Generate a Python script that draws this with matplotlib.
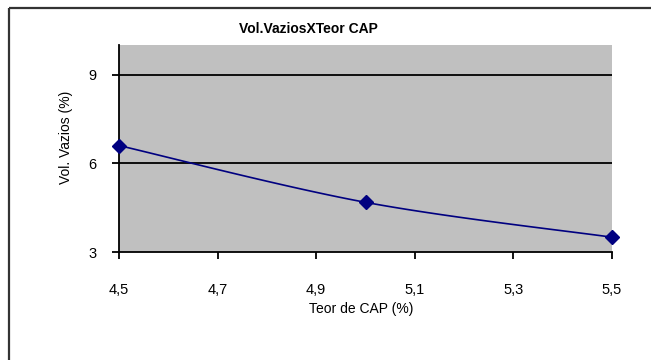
import numpy as np
import matplotlib.pyplot as plt
from matplotlib.lines import Line2D

plt.rcParams['font.family'] = ['Liberation Sans', 'DejaVu Sans']

# Dados do ensaio
teor_cap = [4.5, 5.0, 5.5]
vol_vazios = [6.6, 4.68, 3.5]
x_ticks = [4.5, 4.7, 4.9, 5.1, 5.3, 5.5]
y_ticks = [3, 6, 9]


def suavizar(x, y, n=40):
    # curva suavizada tipo Catmull-Rom passando pelos pontos
    x = np.asarray(x, float)
    y = np.asarray(y, float)
    px = np.concatenate([[x[0]], x, [x[-1]]])
    py = np.concatenate([[y[0]], y, [y[-1]]])
    xs, ys = [], []
    for i in range(1, len(px) - 2):
        t = np.linspace(0, 1, n)
        p0, p1, p2, p3 = [np.array([px[j], py[j]]) for j in range(i - 1, i + 3)]
        c1 = p1 + (p2 - p0) / 6
        c2 = p2 - (p3 - p1) / 6
        b = (((1 - t) ** 3)[:, None] * p1 + (3 * (1 - t) ** 2 * t)[:, None] * c1
             + (3 * (1 - t) * t ** 2)[:, None] * c2 + (t ** 3)[:, None] * p2)
        xs.extend(b[:, 0])
        ys.extend(b[:, 1])
    return xs, ys


fig = plt.figure(figsize=(6.51, 3.6), dpi=100)
ax = fig.add_axes([119 / 651, 1 - 252 / 360, 493 / 651, 207 / 360])
ax.set_facecolor('#c0c0c0')

cx, cy = suavizar(teor_cap, vol_vazios)
ax.plot(cx, cy, color='#000080', lw=1.2, zorder=3)
ax.plot(teor_cap, vol_vazios, 'D', color='#000080', ms=7, zorder=4, clip_on=False)

ax.set_xlim(4.5, 5.5)
ax.set_ylim(3, 10)
ax.set_xticks(x_ticks)
ax.set_xticklabels([f'{v:.1f}'.replace('.', ',') for v in x_ticks])
ax.set_yticks(y_ticks)
ax.set_yticklabels([str(v) for v in y_ticks])

for v in y_ticks[1:]:
    ax.axhline(v, color='black', lw=1.3, zorder=2)

for s in ['top', 'right']:
    ax.spines[s].set_visible(False)
for s in ['left', 'bottom']:
    ax.spines[s].set_color('black')
    ax.spines[s].set_linewidth(1.3)

ax.tick_params(axis='x', direction='out', length=5, width=1.3, pad=17, labelsize=10.5)
ax.tick_params(axis='y', direction='out', length=5, width=1.3, pad=11, labelsize=10.5)

# títulos dos eixos e do gráfico
fig.text(361 / 651, 1 - 309 / 360, 'Teor de CAP (%)', fontsize=10,
         ha='center', va='center')
fig.text(66 / 651, 1 - 137 / 360, 'Vol. Vazios (%)', fontsize=10,
         rotation=90, ha='center', va='center')
fig.text(308 / 651, 1 - 29 / 360, 'Vol.VaziosXTeor CAP', fontsize=10,
         fontweight='bold', ha='center', va='center')

# moldura do gráfico (só topo e esquerda aparecem)
fig.add_artist(Line2D([9 / 651, 1.01], [1 - 8 / 360] * 2, transform=fig.transFigure,
                      color='#333333', lw=1.6, solid_capstyle='butt'))
fig.add_artist(Line2D([9 / 651] * 2, [-0.01, 1 - 8 / 360], transform=fig.transFigure,
                      color='#333333', lw=1.6, solid_capstyle='butt'))

fig.savefig('out.png', dpi=100)
